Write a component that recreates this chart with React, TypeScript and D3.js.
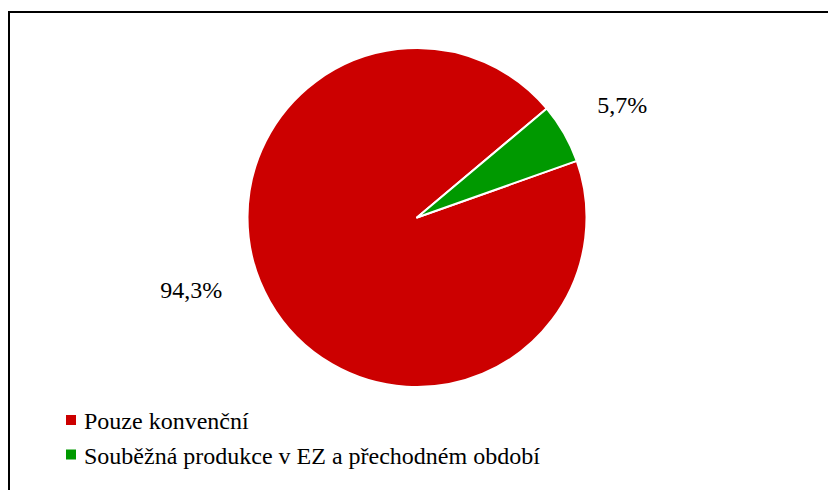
import React from 'react';
import * as d3 from 'd3';

const categories = ['Pouze konvenční', 'Souběžná produkce v EZ a přechodném období'];
const values = [94.3, 5.7];
const valueLabels = ['94,3%', '5,7%'];
const colors = ['#CC0000', '#009900'];

const FONT = "'Liberation Serif', 'Times New Roman', serif";

export default function App() {
  const width = 828;
  const height = 490;
  const cx = 417;
  const cy = 217.5;
  const radius = 169.5;

  const startAngle = (70.5 * Math.PI) / 180;
  const pie = d3.pie<number>()
    .sort(null)
    .startAngle(startAngle)
    .endAngle(startAngle + 2 * Math.PI);
  const arcs = pie(values);
  const arc = d3.arc<d3.PieArcDatum<number>>().innerRadius(0).outerRadius(radius);

  // label placement around each slice's mid angle (bestfit-like nudge)
  const labelRadius = [237, 234];
  const angleShift = [12, 1];

  return (
    <svg width={width} height={height} style={{ position: 'absolute', left: 0, top: 0, display: 'block' }}>
      <rect width={width} height={height} fill="#fff" />
      {/* chart frame, runs off right/bottom */}
      <rect x={9} y={12} width={width + 20} height={height + 20} fill="none" stroke="#000" strokeWidth={2} />
      <g transform={`translate(${cx},${cy})`}>
        {arcs.map((a, i) => (
          <path key={i} d={arc(a) || ''} fill={colors[i]} stroke="#fff" strokeWidth={2} strokeLinejoin="round" />
        ))}
        {arcs.map((a, i) => {
          const mid = (a.startAngle + a.endAngle) / 2 + (angleShift[i] * Math.PI) / 180;
          const x = Math.sin(mid) * labelRadius[i];
          const y = -Math.cos(mid) * labelRadius[i];
          return (
            <text key={i} x={x} y={y + 8} textAnchor="middle" fontFamily={FONT} fontSize={24} fill="#000">
              {valueLabels[i]}
            </text>
          );
        })}
      </g>
      <g transform="translate(66,420)">
        {categories.map((c, i) => (
          <g key={c} transform={`translate(0,${i * 34.5})`}>
            <rect x={0} y={-5} width={10} height={10} fill={colors[i]} />
            <text x={18} y={9} fontFamily={FONT} fontSize={24} fill="#000">
              {c}
            </text>
          </g>
        ))}
      </g>
    </svg>
  );
}
